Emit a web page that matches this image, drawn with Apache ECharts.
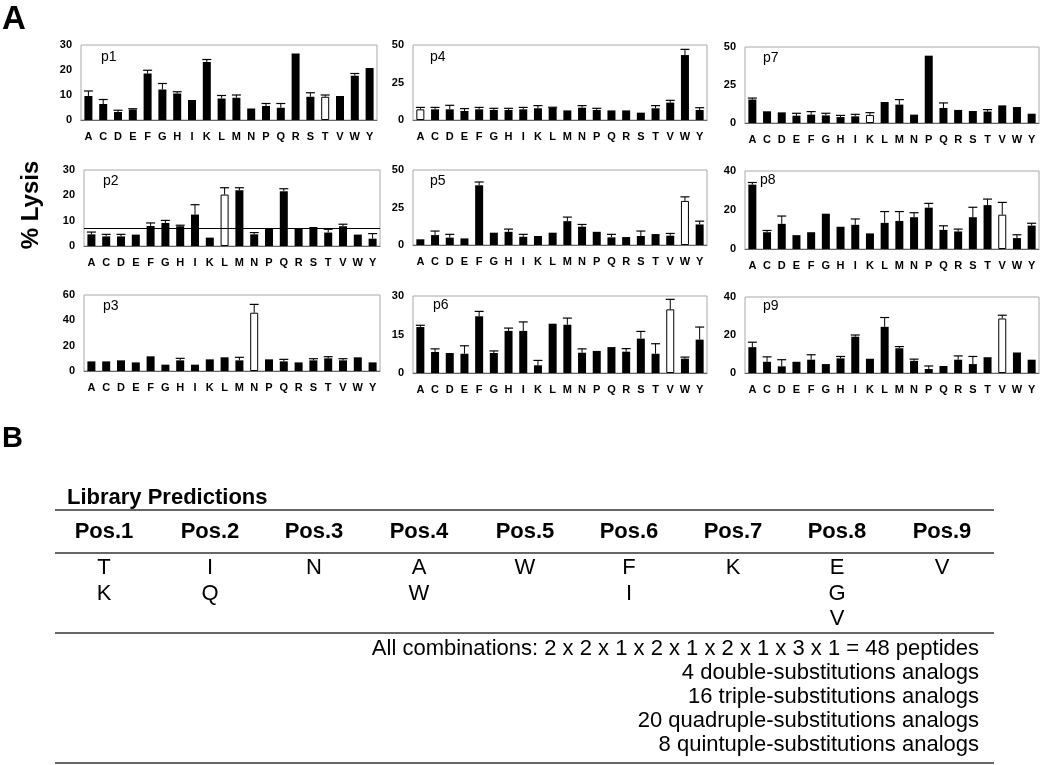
<!DOCTYPE html>
<html>
<head>
<meta charset="utf-8">
<script src="https://cdn.jsdelivr.net/npm/echarts@6/dist/echarts.min.js"></script>
<style>
  html, body { margin: 0; padding: 0; background: #fff; }
  #chart { width: 1050px; height: 765px; }
</style>
</head>
<body>
<div id="chart"></div>
<script>
// amino acid substitutions on every x axis
const categories = ['A', 'C', 'D', 'E', 'F', 'G', 'H', 'I', 'K', 'L', 'M', 'N', 'P', 'Q', 'R', 'S', 'T', 'V', 'W', 'Y'];

// % lysis per position (bar height) and upper error
const p1Values = [9.6, 6.4, 3.2, 4.2, 18.6, 12.2, 10.6, 8.0, 23.2, 8.6, 8.9, 4.6, 5.6, 4.9, 26.6, 9.3, 9.3, 9.6, 17.7, 20.8];
const p1Errors = [2.0, 1.8, 0.7, 0.3, 1.3, 2.4, 0.7, 0, 1.0, 1.2, 1.1, 0, 1.0, 1.7, 0, 1.6, 0.7, 0, 0.9, 0];
const p2Values = [4.6, 3.8, 3.8, 4.5, 7.9, 9.1, 7.8, 12.4, 3.3, 20.3, 22.0, 4.6, 7.1, 21.6, 6.8, 7.5, 5.3, 7.8, 4.5, 2.9];
const p2Errors = [0.9, 0.8, 0.8, 0, 1.2, 1.0, 0.4, 3.9, 0, 2.7, 1.0, 0.7, 0, 1.0, 0, 0, 1.3, 0.8, 0, 2.0];
const p3Values = [7.6, 7.6, 8.4, 6.8, 11.6, 5.0, 8.4, 5.0, 9.2, 10.8, 8.4, 46.0, 9.2, 7.6, 6.8, 8.4, 10.0, 8.4, 10.8, 6.8];
const p3Errors = [0, 0, 0, 0, 0, 0, 1.6, 0, 0, 0, 2.4, 6.6, 0, 1.6, 0, 1.3, 1.3, 1.3, 0, 0];
const p4Values = [7.1, 7.1, 7.1, 6.0, 7.1, 6.7, 6.7, 7.1, 7.8, 8.2, 6.4, 8.2, 6.7, 6.4, 6.4, 4.9, 7.8, 11.6, 43.3, 6.7];
const p4Errors = [1.3, 1.3, 2.7, 1.6, 1.3, 1.1, 1.1, 1.3, 1.8, 0.3, 0, 1.4, 1.1, 0, 0, 0, 1.8, 1.5, 3.8, 1.5];
const p5Values = [3.8, 6.6, 4.9, 4.4, 39.8, 8.2, 8.8, 5.5, 6.0, 8.2, 15.9, 12.2, 8.8, 5.1, 5.3, 6.0, 7.3, 6.2, 29.4, 13.7];
const p5Errors = [0, 2.7, 2.2, 0, 2.2, 0, 1.8, 1.6, 0, 0, 2.7, 1.5, 0, 2.0, 0, 3.3, 0, 1.5, 2.7, 2.2];
const p6Values = [17.9, 8.2, 7.8, 7.5, 22.1, 7.8, 16.4, 16.4, 3.0, 19.2, 18.8, 7.9, 8.6, 10.1, 8.3, 13.4, 7.5, 24.8, 5.6, 13.0];
const p6Errors = [0.7, 1.2, 0, 3.1, 1.9, 0.8, 1.1, 3.5, 1.9, 0, 2.6, 1.5, 0, 0, 1.2, 2.8, 3.9, 3.9, 0.6, 4.9];
const p7Values = [15.4, 7.7, 7.0, 4.8, 5.5, 5.0, 3.9, 4.4, 5.3, 13.8, 12.1, 5.5, 44.3, 9.9, 8.6, 7.9, 7.5, 11.6, 10.5, 6.1];
const p7Errors = [1.0, 0, 0, 1.6, 2.0, 1.4, 1.1, 1.3, 1.5, 0, 3.3, 0, 0, 3.3, 0, 0, 1.3, 0, 0, 0];
const p8Values = [33.0, 8.6, 12.9, 7.1, 8.6, 18.1, 11.4, 12.4, 8.0, 13.4, 14.4, 16.3, 21.2, 9.8, 9.0, 16.3, 22.5, 17.6, 5.6, 12.0];
const p8Errors = [1.1, 0.9, 4.0, 0, 0, 0, 0, 3.0, 0, 5.8, 4.8, 2.3, 2.2, 2.1, 1.2, 5.1, 3.1, 6.3, 1.7, 1.2];
const p9Values = [13.6, 5.9, 3.5, 5.9, 7.0, 4.7, 7.7, 19.1, 7.5, 24.3, 13.0, 6.4, 2.1, 3.7, 7.0, 4.7, 8.3, 28.7, 10.8, 7.0];
const p9Errors = [2.6, 2.6, 3.5, 0, 2.6, 0, 1.0, 0.9, 0, 4.9, 0.9, 0.9, 1.6, 0, 2.0, 4.0, 0, 1.7, 0, 0];

const panelNames = ['p1', 'p2', 'p3', 'p4', 'p5', 'p6', 'p7', 'p8', 'p9'];
const panelValues = [p1Values, p2Values, p3Values, p4Values, p5Values, p6Values, p7Values, p8Values, p9Values];
const panelErrors = [p1Errors, p2Errors, p3Errors, p4Errors, p5Errors, p6Errors, p7Errors, p8Errors, p9Errors];
// native residue of each position (open bar)
const openBars = ['T', 'L', 'N', 'A', 'W', 'V', 'K', 'V', 'V'];
const yMax = [30, 30, 60, 50, 50, 30, 50, 40, 40];
const yStep = [10, 10, 20, 25, 25, 15, 25, 20, 20];
const p2Cutoff = 7.1;

// library predictions table
const posHeaders = ['Pos.1', 'Pos.2', 'Pos.3', 'Pos.4', 'Pos.5', 'Pos.6', 'Pos.7', 'Pos.8', 'Pos.9'];
const posResidues = [['T', 'K'], ['I', 'Q'], ['N'], ['A', 'W'], ['W'], ['F', 'I'], ['K'], ['E', 'G', 'V'], ['V']];
const summaryLines = [
  'All combinations: 2 x 2 x 1 x 2 x 1 x 2 x 1 x 3 x 1 = 48 peptides',
  '4 double-substitutions analogs',
  '16 triple-substitutions analogs',
  '20 quadruple-substitutions analogs',
  '8 quintuple-substitutions analogs'
];

// layout of the 3x3 grid (left, top, width, height)
const gridBoxes = [
  [81, 45, 296, 75], [84, 170, 296, 76], [84, 295, 296, 76],
  [413, 45, 294, 75], [413, 170, 294, 75], [413, 296, 294, 77],
  [745, 47, 294, 76], [745, 171, 294, 78], [745, 297, 294, 76]
];
const labelPos = [[101, 57], [103, 181], [103, 306], [430, 57], [430, 181], [433, 305], [763, 58], [760, 180], [763, 306]];

const FONT = '"Liberation Sans", Arial, sans-serif';
const chart = echarts.init(document.getElementById('chart'));

const grids = [], xAxes = [], yAxes = [], series = [], graphics = [];

panelNames.forEach((name, k) => {
  const [l, t, w, h] = gridBoxes[k];
  grids.push({ left: l, top: t, width: w, height: h, show: true, borderColor: '#a8a8a8', borderWidth: 1, backgroundColor: 'transparent' });
  xAxes.push({
    type: 'category', gridIndex: k, data: categories,
    axisLine: { show: true, lineStyle: { color: '#666', width: 1 } },
    axisTick: { show: false },
    axisLabel: { interval: 0, margin: 11, color: '#000', fontWeight: 'bold', fontSize: 11, fontFamily: FONT }
  });
  yAxes.push({
    type: 'value', gridIndex: k, min: 0, max: yMax[k], interval: yStep[k],
    axisLine: { show: false }, axisTick: { show: false }, splitLine: { show: false },
    axisLabel: { margin: 9, color: '#000', fontWeight: 'bold', fontSize: 11, fontFamily: FONT }
  });

  const open = openBars[k];
  const bar = {
    type: 'bar', xAxisIndex: k, yAxisIndex: k, barWidth: 8, silent: true,
    data: panelValues[k].map((v, i) => categories[i] === open
      ? { value: v, itemStyle: { color: '#fff', borderColor: '#000', borderWidth: 1 } }
      : { value: v, itemStyle: { color: '#000' } })
  };
  if (name === 'p2') {
    bar.markLine = {
      silent: true, symbol: 'none', label: { show: false },
      lineStyle: { color: '#000', type: 'solid', width: 1 },
      data: [{ yAxis: p2Cutoff }]
    };
  }
  series.push(bar);

  series.push({
    type: 'custom', xAxisIndex: k, yAxisIndex: k, silent: true, z: 3,
    encode: { x: 0, y: [1, 2] },
    data: panelValues[k].map((v, i) => [i, v, panelErrors[k][i]]),
    renderItem: (params, api) => {
      const v = api.value(1), e = api.value(2);
      if (!e) return null;
      const base = api.coord([api.value(0), v]);
      const top = api.coord([api.value(0), v + e]);
      return {
        type: 'group',
        children: [
          { type: 'line', shape: { x1: base[0], y1: base[1], x2: top[0], y2: top[1] }, style: { stroke: '#000', lineWidth: 1 } },
          { type: 'line', shape: { x1: top[0] - 4.5, y1: top[1], x2: top[0] + 4.5, y2: top[1] }, style: { stroke: '#000', lineWidth: 1.2 } }
        ]
      };
    }
  });

  graphics.push({
    type: 'text', x: labelPos[k][0], y: labelPos[k][1], z: 10,
    style: { text: name, font: '14px ' + FONT, fill: '#000', textAlign: 'left', textVerticalAlign: 'middle' }
  });
});

// panel letters and the shared y title
graphics.push(
  { type: 'text', x: 2, y: 20, style: { text: 'A', font: 'bold 33px ' + FONT, fill: '#000', textVerticalAlign: 'middle' } },
  { type: 'text', x: 2, y: 439, style: { text: 'B', font: 'bold 29px ' + FONT, fill: '#000', textVerticalAlign: 'middle' } },
  { type: 'text', x: 31, y: 205, rotation: Math.PI / 2,
    style: { text: '% Lysis', font: 'bold 24px ' + FONT, fill: '#000', textAlign: 'center', textVerticalAlign: 'middle' } }
);

// table
const colX = [104, 210, 314, 419, 525, 629, 733, 837, 942];
const tableLeft = 55, tableRight = 994;
const rule = (y) => ({ type: 'line', shape: { x1: tableLeft, y1: y, x2: tableRight, y2: y }, style: { stroke: '#333', lineWidth: 1.6 } });
graphics.push(
  { type: 'text', x: 67, y: 498, style: { text: 'Library Predictions', font: 'bold 22px ' + FONT, fill: '#000', textVerticalAlign: 'middle' } },
  rule(510), rule(553), rule(633), rule(763)
);
posHeaders.forEach((hd, i) => {
  graphics.push({ type: 'text', x: colX[i], y: 532, style: { text: hd, font: 'bold 22px ' + FONT, fill: '#000', textAlign: 'center', textVerticalAlign: 'middle' } });
  posResidues[i].forEach((r, j) => {
    graphics.push({ type: 'text', x: colX[i], y: 568 + j * 25.5, style: { text: r, font: '22px ' + FONT, fill: '#000', textAlign: 'center', textVerticalAlign: 'middle' } });
  });
});
summaryLines.forEach((s, i) => {
  graphics.push({ type: 'text', x: 979, y: 649 + i * 24, style: { text: s, font: '22px ' + FONT, fill: '#000', textAlign: 'right', textVerticalAlign: 'middle' } });
});

chart.setOption({
  animation: false,
  backgroundColor: '#fff',
  grid: grids,
  xAxis: xAxes,
  yAxis: yAxes,
  series: series,
  graphic: graphics
});

window.addEventListener('resize', () => chart.resize());
</script>
</body>
</html>
